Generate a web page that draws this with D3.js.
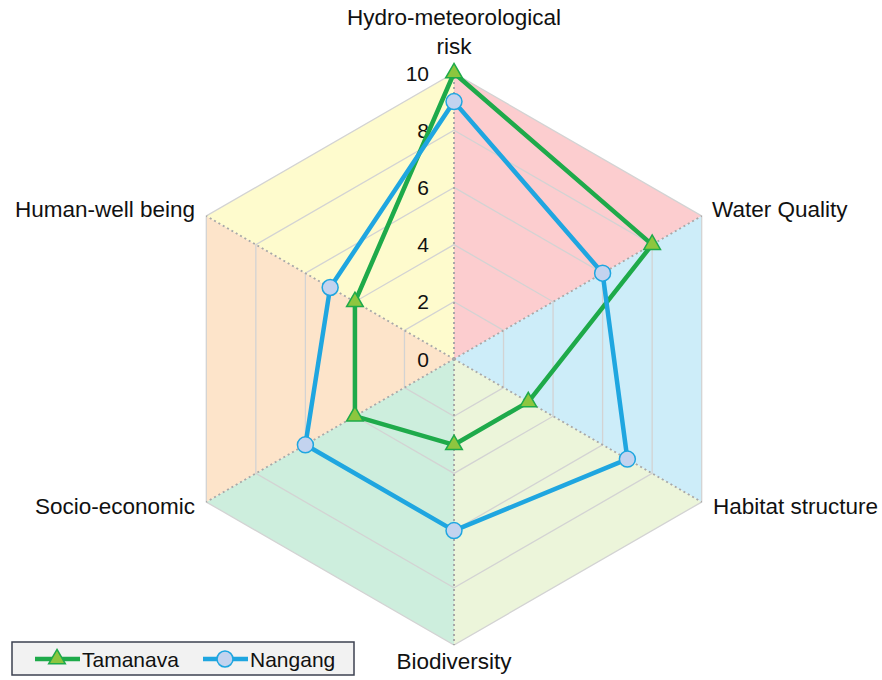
<!DOCTYPE html>
<html>
<head>
<meta charset="utf-8">
<script src="https://cdn.jsdelivr.net/npm/d3@7"></script>
<style>
  body { margin: 0; background: #fff; }
  svg text { font-family: "Liberation Sans", Arial, sans-serif; fill: #111; }
</style>
</head>
<body>
<svg id="radar" width="882" height="680"></svg>
<script>
// axes, clockwise from the top
const axes = ['Hydro-meteorological risk', 'Water Quality', 'Habitat structure', 'Biodiversity', 'Socio-economic', 'Human-well being'];
const ticks = [0, 2, 4, 6, 8, 10];
const tamanava = [10, 8, 3, 3, 4, 4];
const nangang = [9, 6, 7, 6, 6, 5];
const sectorColors = ['#fccdcf', '#cdedf9', '#ecf5da', '#cdeedd', '#fde4ca', '#fefbcd'];

const cx = 454, cy = 359;
const svg = d3.select('#radar');

let r = d3.scaleLinear().domain([0, 10]).range([0, 286]);
let angle = d3.scaleLinear().domain([0, axes.length]).range([0, 2 * Math.PI]);

//point on axis i at value v
function pt(i, v) {
  let a = angle(i);
  return [cx + r(v) * Math.sin(a), cy - r(v) * Math.cos(a)];
}

//Coloured wedges between neighbouring axes.
svg.append('g').selectAll('path')
  .data(axes)
  .join('path')
  .attr('d', (d, i) => 'M' + cx + ',' + cy + 'L' + pt(i, 10) + 'L' + pt((i + 1) % axes.length, 10) + 'Z')
  .attr('fill', (d, i) => sectorColors[i]);

//Hexagon rings.
let ringLine = d3.line().curve(d3.curveLinearClosed);
svg.append('g').selectAll('path')
  .data(ticks.filter(t => t > 0))
  .join('path')
  .attr('d', t => ringLine(axes.map((a, i) => pt(i, t))))
  .attr('fill', 'none')
  .attr('stroke', '#d3d3d3')
  .attr('stroke-width', 1.3);

//Dotted spokes.
svg.append('g').selectAll('line')
  .data(axes)
  .join('line')
  .attr('x1', cx).attr('y1', cy)
  .attr('x2', (d, i) => pt(i, 10)[0])
  .attr('y2', (d, i) => pt(i, 10)[1])
  .attr('stroke', '#a8a8a8')
  .attr('stroke-width', 2)
  .attr('stroke-dasharray', '2,3');

//Tick labels along the top axis.
svg.append('g').selectAll('text')
  .data(ticks)
  .join('text')
  .attr('x', 429)
  .attr('y', t => cy - r(t))
  .attr('dy', '0.36em')
  .attr('text-anchor', 'end')
  .style('font-size', '21px')
  .text(t => t);

//Series lines + markers.
let lineFn = d3.line().curve(d3.curveLinearClosed);
function drawSeries(values, color, markerFill, shape) {
  let pts = values.map((v, i) => pt(i, v));
  let g = svg.append('g');
  g.append('path')
    .attr('d', lineFn(pts))
    .attr('fill', 'none')
    .attr('stroke', color)
    .attr('stroke-width', 4.5)
    .attr('stroke-linejoin', 'round');
  g.selectAll('path.marker')
    .data(pts)
    .join('path')
    .attr('class', 'marker')
    .attr('transform', d => 'translate(' + d[0] + ',' + d[1] + ')')
    .attr('d', shape)
    .attr('fill', markerFill)
    .attr('stroke', color)
    .attr('stroke-width', 1.5);
}
const triangle = d3.symbol().type(d3.symbolTriangle).size(120)();
const circle = d3.symbol().type(d3.symbolCircle).size(200)();
drawSeries(tamanava, '#1eaa4a', '#8dc63f', triangle);
drawSeries(nangang, '#1fa6e0', '#c3d3ef', circle);

//Category labels.
const labelPos = [
  {x: 454, y: 25, anchor: 'middle'},
  {x: 712, y: 217, anchor: 'start'},
  {x: 713, y: 514, anchor: 'start'},
  {x: 454, y: 669, anchor: 'middle'},
  {x: 195, y: 514, anchor: 'end'},
  {x: 195, y: 217, anchor: 'end'}
];
let labels = svg.append('g').selectAll('text')
  .data(axes)
  .join('text')
  .attr('x', (d, i) => labelPos[i].x)
  .attr('y', (d, i) => labelPos[i].y)
  .attr('text-anchor', (d, i) => labelPos[i].anchor)
  .style('font-size', '22.5px');
labels.each(function (d, i) {
  let t = d3.select(this);
  if (i == 0) {
    t.append('tspan').attr('x', labelPos[i].x).text('Hydro-meteorological');
    t.append('tspan').attr('x', labelPos[i].x).attr('dy', 29).text('risk');
  } else {
    t.text(d);
  }
});

//Legend.
let legend = svg.append('g');
legend.append('rect')
  .attr('x', 12).attr('y', 642)
  .attr('width', 342).attr('height', 33)
  .attr('fill', '#f2f2f2')
  .attr('stroke', '#3c4150')
  .attr('stroke-width', 1.5);
const legendItems = [
  {name: 'Tamanava', color: '#1eaa4a', fill: '#8dc63f', shape: triangle, x: 35},
  {name: 'Nangang', color: '#1fa6e0', fill: '#c3d3ef', shape: circle, x: 203}
];
legendItems.forEach(item => {
  legend.append('line')
    .attr('x1', item.x).attr('x2', item.x + 45)
    .attr('y1', 659).attr('y2', 659)
    .attr('stroke', item.color)
    .attr('stroke-width', 4.5);
  legend.append('path')
    .attr('transform', 'translate(' + (item.x + 22) + ',659)')
    .attr('d', item.shape)
    .attr('fill', item.fill)
    .attr('stroke', item.color)
    .attr('stroke-width', 1.5);
  legend.append('text')
    .attr('x', item.x + 47)
    .attr('y', 666.5)
    .style('font-size', '21px')
    .text(item.name);
});
</script>
</body>
</html>
